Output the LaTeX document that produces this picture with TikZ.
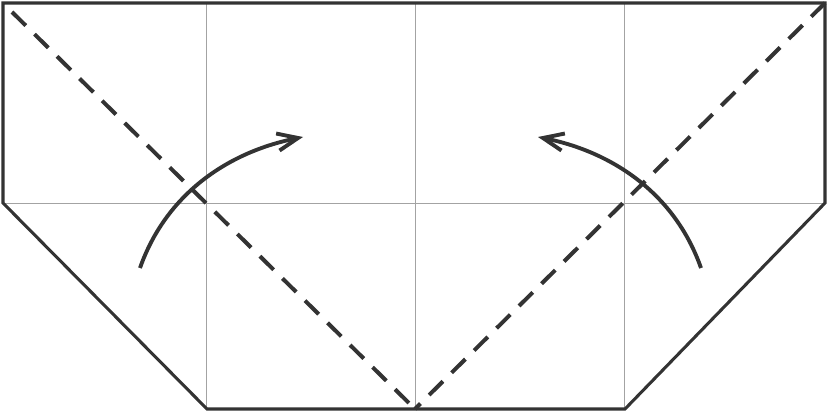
\documentclass[tikz,border=0pt]{standalone}
\usetikzlibrary{arrows.meta}
\definecolor{ink}{HTML}{333333}
\definecolor{crease}{HTML}{A3A3A3}
\begin{document}
\begin{tikzpicture}[x=0.03cm,y=0.03cm]
	\tikzstyle{edge}=[ink,line width=2.6pt,line join=miter]
	\tikzstyle{crease line}=[crease,line width=0.7pt]
	\tikzstyle{valley}=[ink,line width=3.4pt,dash pattern=on 16.5pt off 10.5pt]
	\tikzstyle{turn}=[ink,line width=3.3pt,-{Straight Barb[length=6.2mm,width=5.2mm]}]
	\useasboundingbox (0,0) rectangle (828,412);
	\coordinate (tl) at (3,409);
	\coordinate (tr) at (825,409);
	\coordinate (mr) at (825,209);
	\coordinate (br) at (625,3);
	\coordinate (bl) at (207,3);
	\coordinate (ml) at (3,209);
	\coordinate (apex) at (415,3);
	% creases
	\draw [crease line] (ml) -- (mr);
	\draw [crease line] (206,409) -- (206,3);
	\draw [crease line] (415,409) -- (415,3);
	\draw [crease line] (624,409) -- (624,3);
	% folds
	\draw [valley] (12,400) -- (apex);
	\draw [valley] (tr) -- (apex);
	% outline
	\draw [edge] (tl) -- (tr) -- (mr) -- (br) -- (bl) -- (ml) -- cycle;
	% arrows
	\coordinate (ls) at (140,144);
	\coordinate (le) at (303,275);
	\coordinate (rs) at (701,144);
	\coordinate (re) at (538,275);
	\draw [turn] (ls) .. controls (166,218) and (228,260) .. (le);
	\draw [turn] (rs) .. controls (675,218) and (613,260) .. (re);
\end{tikzpicture}
\end{document}
